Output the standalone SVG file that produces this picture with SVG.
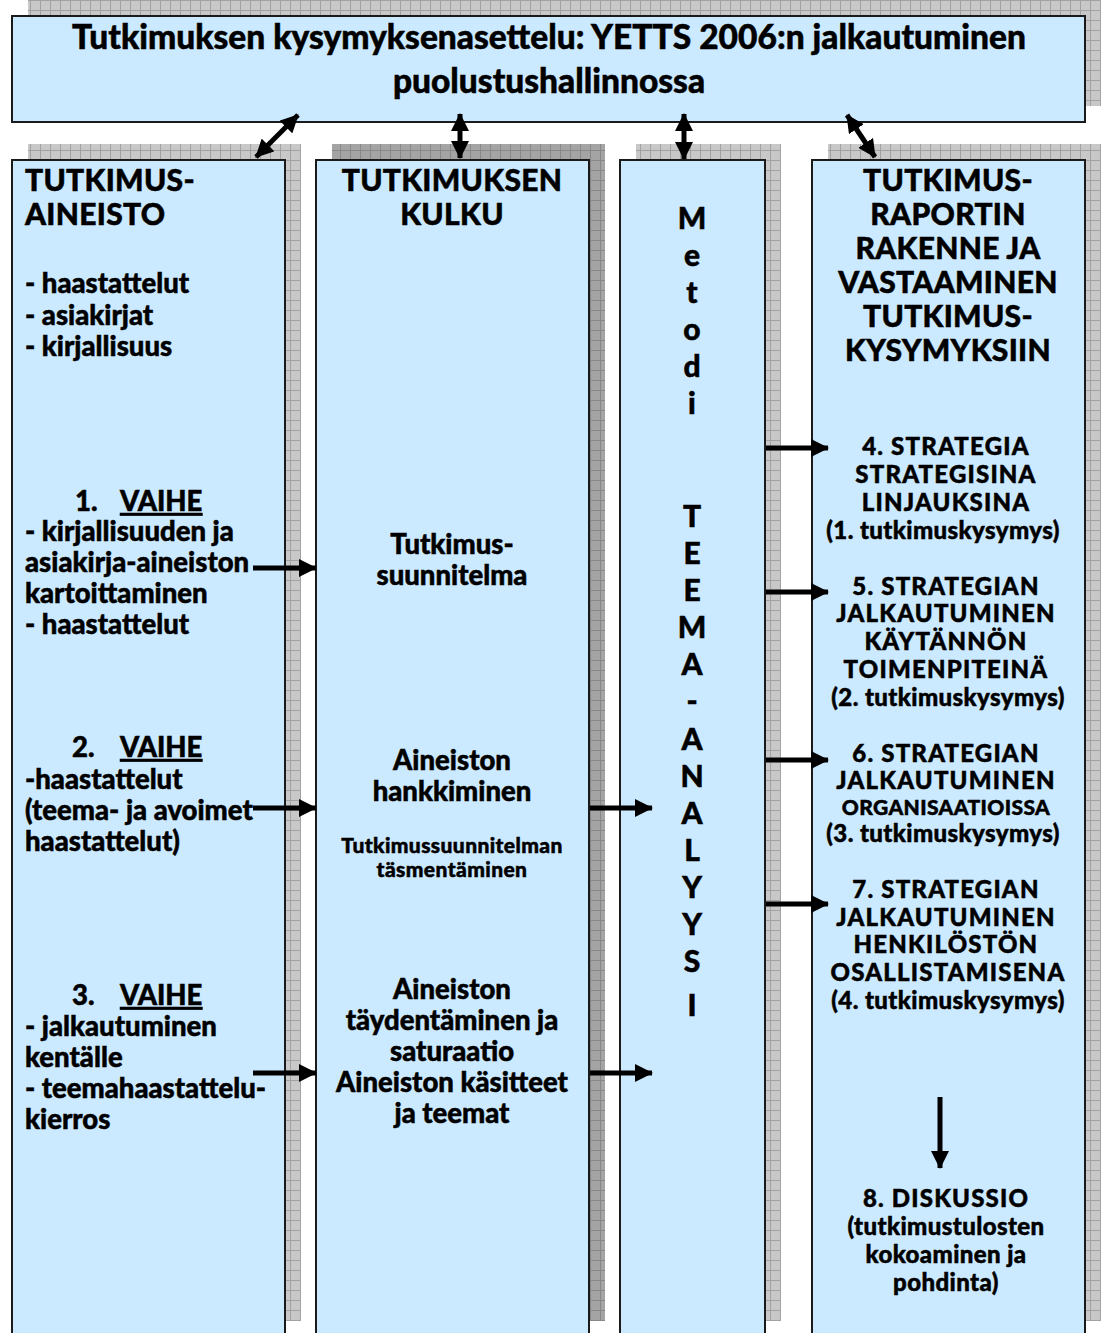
<svg xmlns="http://www.w3.org/2000/svg" width="1101" height="1333" viewBox="0 0 1101 1333">
<defs>
<pattern id="shLight" width="10" height="10" patternUnits="userSpaceOnUse">
<rect width="10" height="10" fill="#c8c8c8"/>
<path d="M0 0.5H10M0.5 0V10" stroke="#a2a2a2" stroke-width="1"/>
</pattern>
<pattern id="shDark" width="10" height="10" patternUnits="userSpaceOnUse">
<rect width="10" height="10" fill="#a4a4a4"/>
<path d="M0 0.5H10M0.5 0V10" stroke="#888" stroke-width="1"/>
</pattern>
<marker id="ah" markerWidth="18" markerHeight="18" viewBox="0 0 18 18" refX="17" refY="9" orient="auto-start-reverse" markerUnits="userSpaceOnUse">
<path d="M0 0L18 9L0 18Z" fill="#000"/>
</marker>
<style>
.box{fill:#cceaff;stroke:#1a1a1a;stroke-width:2}
.t{font-family:Lato,"Open Sans","Liberation Sans",sans-serif;font-weight:900;fill:#000;stroke:#000;stroke-width:0.5}
.c{text-anchor:middle}
.h{font-size:30px;letter-spacing:0.3px}
.b{font-size:27.5px}
.s{font-size:24px;letter-spacing:0.4px}
.k{letter-spacing:1.2px}
.xs{font-size:21px;letter-spacing:0.4px}
.v{font-size:30px;text-anchor:middle}
.con{stroke:#000;stroke-width:5;fill:none}
</style>
</defs>

<g id="shadows">
<rect x="28" y="0" width="1073" height="106" fill="url(#shLight)"/>
<rect x="28" y="144" width="273" height="1177" fill="url(#shLight)"/>
<rect x="332" y="144" width="273" height="1177" fill="url(#shDark)"/>
<rect x="636" y="144" width="145" height="1177" fill="url(#shLight)"/>
<rect x="828" y="144" width="273" height="1177" fill="url(#shLight)"/>
</g>

<g id="node-title">
<rect class="box" x="12" y="16" width="1073" height="106"/>
<text class="t c" x="549" y="49" font-size="33.5">Tutkimuksen kysymyksenasettelu: YETTS 2006:n jalkautuminen</text>
<text class="t c" x="549" y="93" font-size="33.5">puolustushallinnossa</text>
</g>

<g id="node-aineisto">
<rect class="box" x="12" y="160" width="273" height="1180"/>
<text class="t h" x="25" y="191">TUTKIMUS-</text>
<text class="t h" x="25" y="225">AINEISTO</text>
<text class="t b" x="25" y="293">- haastattelut</text>
<text class="t b" x="25" y="325">- asiakirjat</text>
<text class="t b" x="25" y="356">- kirjallisuus</text>
<text class="t b" x="75" y="511">1.</text>
<text class="t b" x="120" y="511" text-decoration="underline">VAIHE</text>
<text class="t b" x="25" y="541">- kirjallisuuden ja</text>
<text class="t b" x="25" y="572">asiakirja-aineiston</text>
<text class="t b" x="25" y="603">kartoittaminen</text>
<text class="t b" x="25" y="634">- haastattelut</text>
<text class="t b" x="72" y="757">2.</text>
<text class="t b" x="120" y="757" text-decoration="underline">VAIHE</text>
<text class="t b" x="25" y="789">-haastattelut</text>
<text class="t b" x="25" y="820">(teema- ja avoimet</text>
<text class="t b" x="25" y="851">haastattelut)</text>
<text class="t b" x="72" y="1005">3.</text>
<text class="t b" x="120" y="1005" text-decoration="underline">VAIHE</text>
<text class="t b" x="25" y="1036">- jalkautuminen</text>
<text class="t b" x="25" y="1067">kentälle</text>
<text class="t b" x="25" y="1098">- teemahaastattelu-</text>
<text class="t b" x="25" y="1129">kierros</text>
</g>

<g id="node-kulku">
<rect class="box" x="316" y="160" width="273" height="1180"/>
<text class="t h c" x="452" y="191">TUTKIMUKSEN</text>
<text class="t h c" x="452" y="225">KULKU</text>
<text class="t b c" x="452" y="554">Tutkimus-</text>
<text class="t b c" x="452" y="585">suunnitelma</text>
<text class="t b c" x="452" y="770">Aineiston</text>
<text class="t b c" x="452" y="801">hankkiminen</text>
<text class="t xs c" x="452" y="853">Tutkimussuunnitelman</text>
<text class="t xs c" x="452" y="877">täsmentäminen</text>
<text class="t b c" x="452" y="999">Aineiston</text>
<text class="t b c" x="452" y="1030">täydentäminen ja</text>
<text class="t b c" x="452" y="1061">saturaatio</text>
<text class="t b c" x="452" y="1092">Aineiston käsitteet</text>
<text class="t b c" x="452" y="1123">ja teemat</text>
</g>

<g id="node-metodi">
<rect class="box" x="620" y="160" width="145" height="1180"/>
<text class="t v" x="692" y="229">M</text>
<text class="t v" x="692" y="266">e</text>
<text class="t v" x="692" y="303">t</text>
<text class="t v" x="692" y="340">o</text>
<text class="t v" x="692" y="377">d</text>
<text class="t v" x="692" y="414">i</text>
<text class="t v" x="692" y="527">T</text>
<text class="t v" x="692" y="564">E</text>
<text class="t v" x="692" y="601">E</text>
<text class="t v" x="692" y="638">M</text>
<text class="t v" x="692" y="675">A</text>
<text class="t v" x="692" y="712">-</text>
<text class="t v" x="692" y="750">A</text>
<text class="t v" x="692" y="787">N</text>
<text class="t v" x="692" y="824">A</text>
<text class="t v" x="692" y="861">L</text>
<text class="t v" x="692" y="898">Y</text>
<text class="t v" x="692" y="935">Y</text>
<text class="t v" x="692" y="972">S</text>
<text class="t v" x="692" y="1016">I</text>
</g>

<g id="node-raportti">
<rect class="box" x="812" y="160" width="273" height="1180"/>
<text class="t h c" x="948" y="191">TUTKIMUS-</text>
<text class="t h c" x="948" y="225">RAPORTIN</text>
<text class="t h c" x="948" y="259">RAKENNE JA</text>
<text class="t h c" x="948" y="293">VASTAAMINEN</text>
<text class="t h c" x="948" y="327">TUTKIMUS-</text>
<text class="t h c" x="948" y="361">KYSYMYKSIIN</text>
<text class="t s k c" x="946" y="455">4. STRATEGIA</text>
<text class="t s k c" x="946" y="483">STRATEGISINA</text>
<text class="t s k c" x="946" y="511">LINJAUKSINA</text>
<text class="t s c" x="943" y="539">(1. tutkimuskysymys)</text>
<text class="t s k c" x="946" y="595">5. STRATEGIAN</text>
<text class="t s k c" x="946" y="622">JALKAUTUMINEN</text>
<text class="t s k c" x="946" y="650">KÄYTÄNNÖN</text>
<text class="t s k c" x="946" y="678">TOIMENPITEINÄ</text>
<text class="t s c" x="948" y="706">(2. tutkimuskysymys)</text>
<text class="t s k c" x="946" y="762">6. STRATEGIAN</text>
<text class="t s k c" x="946" y="789">JALKAUTUMINEN</text>
<text class="t xs k c" x="946" y="815">ORGANISAATIOISSA</text>
<text class="t s c" x="943" y="842">(3. tutkimuskysymys)</text>
<text class="t s k c" x="946" y="898">7. STRATEGIAN</text>
<text class="t s k c" x="946" y="926">JALKAUTUMINEN</text>
<text class="t s k c" x="946" y="953">HENKILÖSTÖN</text>
<text class="t s k c" x="948" y="981">OSALLISTAMISENA</text>
<text class="t s c" x="948" y="1009">(4. tutkimuskysymys)</text>
<text class="t s k c" x="946" y="1207">8. DISKUSSIO</text>
<text class="t s c" x="946" y="1235">(tutkimustulosten</text>
<text class="t s c" x="946" y="1263">kokoaminen ja</text>
<text class="t s c" x="946" y="1291">pohdinta)</text>
</g>

<g id="connectors">
<line class="con" x1="298" y1="115" x2="256" y2="157" marker-start="url(#ah)" marker-end="url(#ah)"/>
<line class="con" x1="460" y1="114" x2="460" y2="158" marker-start="url(#ah)" marker-end="url(#ah)"/>
<line class="con" x1="684" y1="114" x2="684" y2="159" marker-start="url(#ah)" marker-end="url(#ah)"/>
<line class="con" x1="847" y1="115" x2="875" y2="157" marker-start="url(#ah)" marker-end="url(#ah)"/>
<line class="con" x1="253" y1="568" x2="316" y2="568" marker-end="url(#ah)"/>
<line class="con" x1="253" y1="808" x2="316" y2="808" marker-end="url(#ah)"/>
<line class="con" x1="253" y1="1073" x2="316" y2="1073" marker-end="url(#ah)"/>
<line class="con" x1="590" y1="808" x2="652" y2="808" marker-end="url(#ah)"/>
<line class="con" x1="590" y1="1073" x2="652" y2="1073" marker-end="url(#ah)"/>
<line class="con" x1="766" y1="448" x2="828" y2="448" marker-end="url(#ah)"/>
<line class="con" x1="766" y1="592" x2="828" y2="592" marker-end="url(#ah)"/>
<line class="con" x1="766" y1="760" x2="828" y2="760" marker-end="url(#ah)"/>
<line class="con" x1="766" y1="904" x2="828" y2="904" marker-end="url(#ah)"/>
<line class="con" x1="940" y1="1097" x2="940" y2="1168" marker-end="url(#ah)"/>
</g>
</svg>
